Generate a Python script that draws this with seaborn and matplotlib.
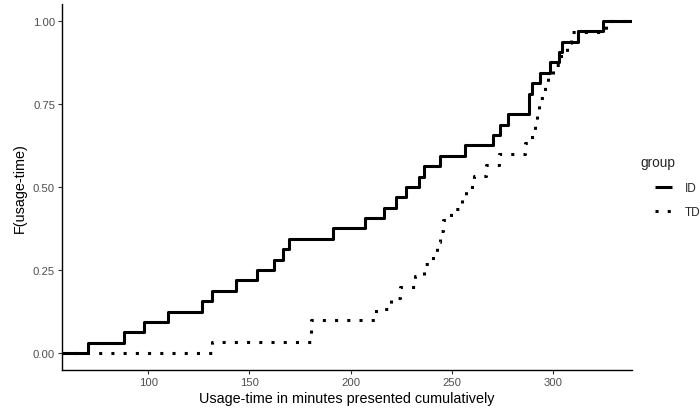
import numpy as np
import pandas as pd
import matplotlib
matplotlib.use("Agg")
import matplotlib.pyplot as plt
import seaborn as sns
from matplotlib.lines import Line2D

# Usage-time (minutes, cumulative) per child
id_times = [70.2, 88.1, 98.0, 109.9, 126.5, 131.6, 143.2, 153.7, 162.2, 166.5,
            169.6, 191.2, 207.2, 216.5, 222.5, 227.4, 233.8, 236.3, 244.2, 256.3,
            270.2, 273.8, 277.6, 288.1, 288.1, 289.6, 293.6, 298.5, 303.0, 304.4,
            312.3, 324.7]
td_times = [131.6, 180.2, 180.2, 212.4, 219.8, 224.3, 231.7, 236.1, 240.6, 242.6,
            244.1, 245.5, 249.5, 254.9, 256.9, 260.9, 266.8, 273.3, 286.1, 289.6,
            291.1, 292.1, 293.1, 296.0, 297.5, 300.0, 304.0, 307.0, 309.0, 326.2]
groups = ["ID", "TD"]
y_ticks = [0.00, 0.25, 0.50, 0.75, 1.00]
x_ticks = [100, 150, 200, 250, 300]

df = pd.DataFrame({
    "time": id_times + td_times,
    "group": ["ID"] * len(id_times) + ["TD"] * len(td_times),
})

sns.set_theme(style="ticks")
plt.rcParams["font.family"] = ["Liberation Sans", "DejaVu Sans"]

fig = plt.figure(figsize=(7.0, 4.1), dpi=100)
ax = fig.add_axes([0.0886, 0.096, 0.903 - 0.0886, 0.987 - 0.096])

dotted = (0, (1, 3))
styles = {"ID": dict(linestyle="-"), "TD": dict(linestyle=dotted)}
for g in groups:
    sub = df[df["group"] == g]
    sns.ecdfplot(data=sub, x="time", ax=ax, color="black", linewidth=2.2,
                 solid_capstyle="butt", dash_capstyle="butt", **styles[g])

# ggplot-like expansion (5%)
lo, hi = df["time"].min(), df["time"].max()
pad = 0.05 * (hi - lo)
xmin, xmax = lo - pad, hi + pad
ax.set_xlim(xmin, xmax)
ax.set_ylim(-0.05, 1.05)

# extend each ECDF across the whole panel (like stat_ecdf padding)
for line in ax.get_lines():
    xd, yd = line.get_data()
    xd = np.asarray(xd, dtype=float)
    yd = np.asarray(yd, dtype=float)
    xd = np.where(np.isneginf(xd), xmin, xd)
    line.set_data(np.r_[xd, xmax], np.r_[yd, yd[-1]])

ax.set_xticks(x_ticks)
ax.set_yticks(y_ticks)
ax.set_yticklabels([f"{v:.2f}" for v in y_ticks])
ax.tick_params(axis="both", labelsize=8.1, labelcolor="#4D4D4D", color="#333333",
               length=3, width=0.8, pad=2)
for s in ["top", "right"]:
    ax.spines[s].set_visible(False)
for s in ["left", "bottom"]:
    ax.spines[s].set_color("black")
    ax.spines[s].set_linewidth(1.0)

ax.set_xlabel("Usage-time in minutes presented cumulatively", fontsize=10.4,
              color="black", labelpad=3)
ax.set_ylabel("F(usage-time)", fontsize=10.4, color="black", labelpad=4)

handles = [Line2D([], [], color="black", linewidth=2.2, linestyle="-",
                  solid_capstyle="butt"),
           Line2D([], [], color="black", linewidth=2.2, linestyle=dotted,
                  dash_capstyle="butt")]
fig.text(640 / 700, 1 - 163 / 410, "group", fontsize=9.8, ha="left", va="center")
fig.legend(handles, groups, loc="upper left",
           bbox_to_anchor=(655 / 700, 1 - 183 / 410), frameon=False,
           fontsize=8.5, handlelength=1.4, handletextpad=1.1,
           labelspacing=1.05, borderpad=0, borderaxespad=0)

fig.savefig("out.png", dpi=100)
